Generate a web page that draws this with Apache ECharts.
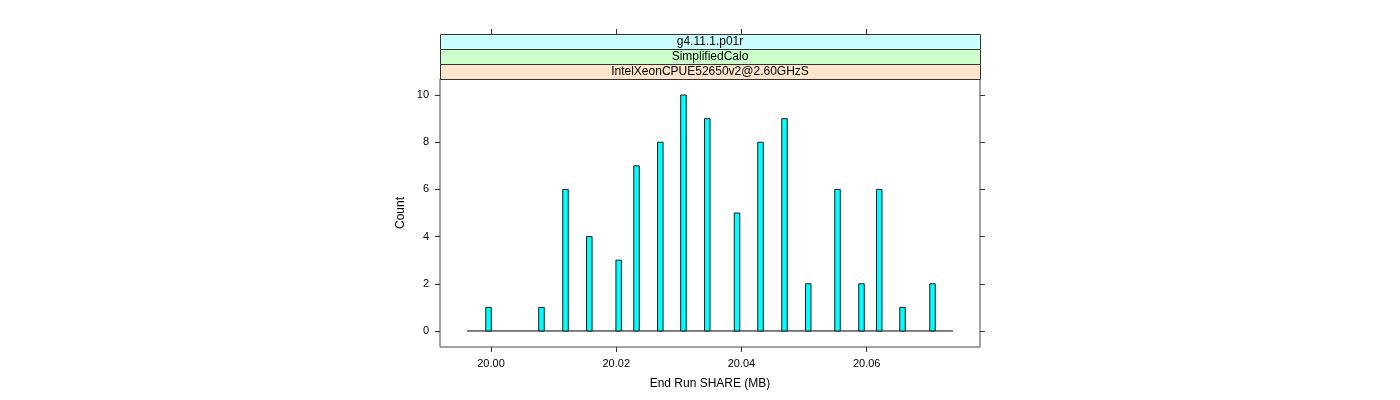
<!DOCTYPE html>
<html><head><meta charset="utf-8">
<script src="https://cdn.jsdelivr.net/npm/echarts@6/dist/echarts.min.js"></script>
<style>html,body{margin:0;padding:0;background:#fff}#c{width:1400px;height:400px}</style>
</head><body><div id="c"></div>
<script>
const binCenters = [19.99960, 20.00806, 20.01190, 20.01570, 20.02039, 20.02324, 20.02704, 20.03074, 20.03454, 20.03929, 20.04304, 20.04687, 20.05066, 20.05534, 20.05917, 20.06200, 20.06572, 20.07051];
const counts = [1, 1, 6, 4, 3, 7, 8, 10, 9, 5, 8, 9, 2, 6, 2, 6, 1, 2];
const binRange = [19.99617, 20.07378];
const binWidth = 0.00088;
const xTicks = [20.00, 20.02, 20.04, 20.06];
const yTicks = [0, 2, 4, 6, 8, 10];
const stripLabels = ['g4.11.1.p01r', 'SimplifiedCalo', 'IntelXeonCPUE52650v2@2.60GHzS'];
const stripColors = ['#CCFFFF', '#CCFFCC', '#FFE5CC'];
const xTitle = 'End Run SHARE (MB)';
const yTitle = 'Count';

const FONT = 'Liberation Sans, Arial, sans-serif';
const GL = 440, GT = 79, GW = 540, GH = 268;
const XMIN = 19.991855, XMAX = 20.078094, YMIN = -0.68, YMAX = 10.68;

const chart = echarts.init(document.getElementById('c'), null, {renderer: 'canvas'});

const graphics = [];
stripLabels.forEach((lab, i) => {
  graphics.push({
    type: 'rect', left: GL, top: 34 + 15 * i,
    shape: {width: GW, height: 15},
    style: {fill: stripColors[i], stroke: '#333', lineWidth: 1}, z: 10
  });
  graphics.push({
    type: 'text', x: GL + GW / 2, y: 34 + 15 * i + 8,
    style: {text: lab, fontSize: 12, fontFamily: FONT, fill: '#000', align: 'center', verticalAlign: 'middle'}, z: 11
  });
});

const tickStyle = {color: '#333', width: 1};
chart.setOption({
  animation: false,
  backgroundColor: '#fff',
  grid: {left: GL, top: GT, width: GW, height: GH, show: true, borderColor: '#444', borderWidth: 1, containLabel: false},
  xAxis: [{
    type: 'value', min: XMIN, max: XMAX, position: 'bottom',
    axisLine: {show: false, onZero: false}, splitLine: {show: false},
    axisTick: {show: true, inside: false, length: 5, customValues: xTicks, lineStyle: tickStyle},
    axisLabel: {show: true, customValues: xTicks, formatter: v => v.toFixed(2), margin: 11, fontSize: 11, fontFamily: FONT, color: '#000'},
    name: xTitle, nameLocation: 'middle', nameGap: 31,
    nameTextStyle: {fontSize: 12, fontFamily: FONT, color: '#000', verticalAlign: 'top'}
  }, {
    type: 'value', min: XMIN, max: XMAX, position: 'top', offset: 45,
    axisLine: {show: false, onZero: false}, splitLine: {show: false},
    axisTick: {show: true, inside: false, length: 5, customValues: xTicks, lineStyle: tickStyle},
    axisLabel: {show: false}
  }],
  yAxis: [{
    type: 'value', min: YMIN, max: YMAX, position: 'left',
    axisLine: {show: false, onZero: false}, splitLine: {show: false},
    axisTick: {show: true, inside: false, length: 5, customValues: yTicks, lineStyle: tickStyle},
    axisLabel: {show: true, customValues: yTicks, margin: 11, fontSize: 11, fontFamily: FONT, color: '#000'},
    name: yTitle, nameLocation: 'middle', nameGap: 33, nameRotate: 90,
    nameTextStyle: {fontSize: 12, fontFamily: FONT, color: '#000'}
  }, {
    type: 'value', min: YMIN, max: YMAX, position: 'right',
    axisLine: {show: false, onZero: false}, splitLine: {show: false},
    axisTick: {show: true, inside: false, length: 5, customValues: yTicks, lineStyle: tickStyle},
    axisLabel: {show: false}
  }],
  graphic: graphics,
  series: [{
    type: 'line', xAxisIndex: 0, yAxisIndex: 0,
    data: [[binRange[0], 0], [binRange[1], 0]],
    symbol: 'none', lineStyle: {color: '#000', width: 1}, z: 1, silent: true
  }, {
    type: 'custom', xAxisIndex: 0, yAxisIndex: 0,
    data: binCenters.map((c, i) => [c, counts[i]]),
    renderItem: function (params, api) {
      const c = api.value(0), n = api.value(1);
      const p0 = api.coord([c - binWidth / 2, n]);
      const p1 = api.coord([c + binWidth / 2, 0]);
      return {
        type: 'rect',
        shape: {x: p0[0], y: p0[1], width: p1[0] - p0[0], height: p1[1] - p0[1]},
        style: {fill: '#00FFFF', stroke: '#1a1a1a', lineWidth: 1}
      };
    },
    z: 2
  }]
});
</script>
</body></html>
